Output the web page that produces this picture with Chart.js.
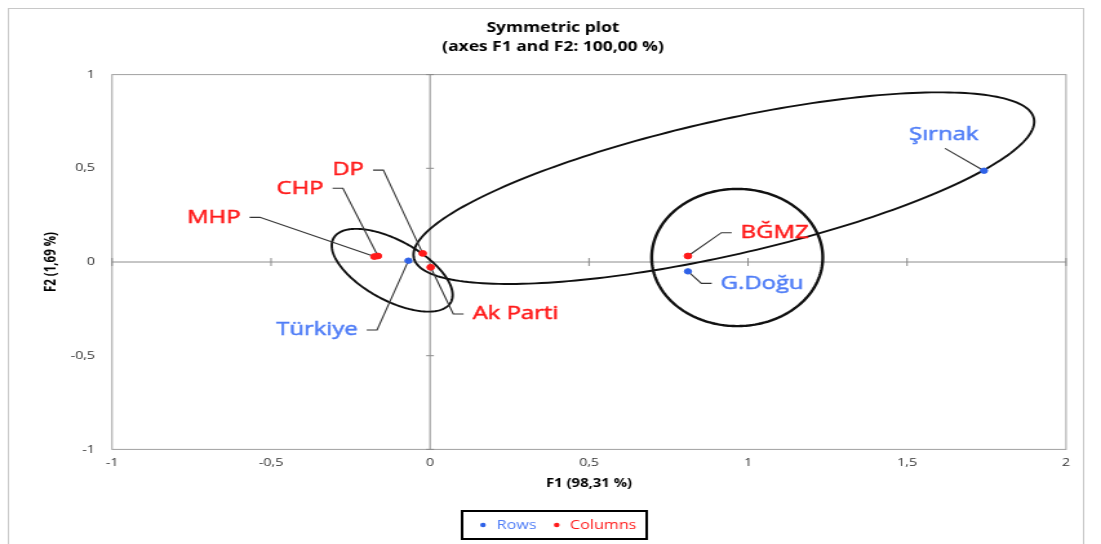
<!DOCTYPE html>
<html>
<head>
<meta charset="utf-8">
<script src="https://cdn.jsdelivr.net/npm/chart.js@4.4.1/dist/chart.umd.min.js"></script>
<style>
  html, body { margin: 0; padding: 0; background: #fff; overflow: hidden; }
  #ca { display: block; }
</style>
</head>
<body>
<!-- the reference is horizontally stretched, so the canvas is drawn narrow and widened by css -->
<canvas id="ca" width="853" height="544" style="width:1101px;height:544px"></canvas>
<script>
// ---- values ----
const rowNames = ["Türkiye", "G.Doğu", "Şırnak"];
const rowF1 = [-0.068, 0.811, 1.742];
const rowF2 = [0.007, -0.050, 0.487];

const colNames = ["Ak Parti", "CHP", "MHP", "DP", "BĞMZ"];
const colF1 = [0.002, -0.164, -0.175, -0.023, 0.811];
const colF2 = [-0.028, 0.032, 0.029, 0.046, 0.032];

// ellipses: centre + two conjugate semi-diameters, in F1/F2 units
const ellCx = [0.924, -0.119, 0.966];
const ellCy = [0.394, -0.044, 0.024];
const ellPx = [0.976, 0.190, 0.269];
const ellPy = [0.355, -0.132, 0];
const ellQx = [0, 0, 0];
const ellQy = [0.368, 0.177, 0.366];

const xTicks = [-1, -0.5, 0, 0.5, 1, 1.5, 2];
const yTicks = [-1, -0.5, 0, 0.5, 1];

// ---- look ----
const FONT = "'Open Sans', sans-serif";
const BLUE_PT = "#2f62e8";
const BLUE_TXT = "#4f7df7";
const RED = "#ff1a1a";

// leader elbow offset from the point (px) and which side the text sits
const labelLayout = {
  "Şırnak":   { ex: -30.2, ey: -22.4, side: "up" },
  "G.Doğu":   { ex: 10.4,  ey: 12,    side: "r" },
  "Türkiye":  { ex: -24.3, ey: 69.3,  side: "l" },
  "BĞMZ":     { ex: 25.9,  ey: -23.3, side: "r" },
  "MHP":      { ex: -88.7, ey: -39.2, side: "l" },
  "CHP":      { ex: -27.1, ey: -67.7, side: "l" },
  "DP":       { ex: -30.5, ey: -83.3, side: "l" },
  "Ak Parti": { ex: 17.5,  ey: 46.7,  side: "r" }
};

const fmt = v => String(v).replace(".", ",");

function allLabels(chart) {
  const out = [];
  chart.data.datasets.forEach((ds, di) => {
    const meta = chart.getDatasetMeta(di);
    ds.data.forEach((d, i) => {
      out.push({ name: d.name, px: meta.data[i].x, py: meta.data[i].y, color: di === 0 ? BLUE_TXT : RED });
    });
  });
  return out;
}

const decor = {
  id: "decor",
  beforeDraw(chart) {
    const ctx = chart.ctx;
    ctx.save();
    ctx.fillStyle = "#fff";
    ctx.fillRect(0, 0, chart.width, chart.height);
    ctx.strokeStyle = "#c8c8c8";
    ctx.lineWidth = 1;
    ctx.strokeRect(6.5, 8.5, 833, 600);
    ctx.restore();
  },
  beforeDatasetsDraw(chart) {
    const { ctx, chartArea: a, scales: { x, y } } = chart;
    ctx.save();
    // plot frame
    ctx.strokeStyle = "#a0a0a0";
    ctx.lineWidth = 1;
    ctx.strokeRect(a.left, a.top, a.right - a.left, a.bottom - a.top);
    // axes through the origin with small ticks
    const x0 = x.getPixelForValue(0), y0 = y.getPixelForValue(0);
    ctx.strokeStyle = "#8c8c8c";
    ctx.beginPath();
    ctx.moveTo(x0, a.top); ctx.lineTo(x0, a.bottom);
    ctx.moveTo(a.left, y0); ctx.lineTo(a.right, y0);
    xTicks.forEach(v => {
      const px = x.getPixelForValue(v);
      ctx.moveTo(px, y0 - 4); ctx.lineTo(px, y0 + 4);
    });
    yTicks.forEach(v => {
      const py = y.getPixelForValue(v);
      ctx.moveTo(x0 - 3, py); ctx.lineTo(x0 + 3, py);
    });
    ctx.stroke();

    // ellipses
    ctx.strokeStyle = "#111";
    for (let i = 0; i < ellCx.length; i++) {
      ctx.lineWidth = i === 2 ? 2.4 : 1.9;
      ctx.beginPath();
      for (let k = 0; k <= 240; k++) {
        const t = k / 240 * Math.PI * 2;
        const vx = ellCx[i] + ellPx[i] * Math.cos(t) + ellQx[i] * Math.sin(t);
        const vy = ellCy[i] + ellPy[i] * Math.cos(t) + ellQy[i] * Math.sin(t);
        const px = x.getPixelForValue(vx), py = y.getPixelForValue(vy);
        if (k === 0) ctx.moveTo(px, py); else ctx.lineTo(px, py);
      }
      ctx.closePath();
      ctx.stroke();
    }

    // leader lines
    ctx.strokeStyle = "#333";
    ctx.lineWidth = 1.1;
    allLabels(chart).forEach(l => {
      const L = labelLayout[l.name];
      const ex = l.px + L.ex, ey = l.py + L.ey;
      ctx.beginPath();
      ctx.moveTo(l.px, l.py);
      ctx.lineTo(ex, ey);
      if (L.side === "l") ctx.lineTo(ex - 8, ey);
      if (L.side === "r") ctx.lineTo(ex + 8, ey);
      ctx.stroke();
    });
    ctx.restore();
  },
  afterDraw(chart) {
    const ctx = chart.ctx;
    ctx.save();
    // point labels (a thin stroke thickens them a bit, like the reference)
    ctx.font = "18.5px " + FONT;
    ctx.textBaseline = "middle";
    ctx.lineWidth = 0.5;
    allLabels(chart).forEach(l => {
      const L = labelLayout[l.name];
      const ex = l.px + L.ex, ey = l.py + L.ey;
      let tx = ex - 1, ty = ey - 13.6;
      ctx.textAlign = "center";
      if (L.side === "l") { ctx.textAlign = "right"; tx = ex - 15; ty = ey; }
      if (L.side === "r") { ctx.textAlign = "left"; tx = ex + 15; ty = ey; }
      ctx.fillStyle = l.color;
      ctx.strokeStyle = l.color;
      ctx.fillText(l.name, tx, ty);
      ctx.strokeText(l.name, tx, ty);
    });

    // title
    ctx.fillStyle = "#000";
    ctx.textAlign = "center";
    ctx.font = "bold 13.5px " + FONT;
    ctx.fillText("Symmetric plot", 428.4, 28);
    ctx.fillText("(axes F1 and F2: 100,00 %)", 428.4, 46.7);

    // legend box
    ctx.strokeStyle = "#000";
    ctx.lineWidth = 2;
    ctx.strokeRect(358, 511, 143, 28);
    ctx.font = "12.5px " + FONT;
    ctx.textAlign = "left";
    [["Rows", BLUE_PT, BLUE_TXT, 374.2, 384.8], ["Columns", RED, RED, 431.3, 441.6]].forEach(([t, pc, tc, dx, tx]) => {
      ctx.fillStyle = pc;
      ctx.beginPath();
      ctx.arc(dx, 525, 2.2, 0, Math.PI * 2);
      ctx.fill();
      ctx.fillStyle = tc;
      ctx.fillText(t, tx, 525);
    });
    ctx.restore();
  }
};

new Chart(document.getElementById("ca"), {
  type: "scatter",
  data: {
    datasets: [
      {
        label: "Rows",
        data: rowF1.map((v, i) => ({ x: v, y: rowF2[i], name: rowNames[i] })),
        backgroundColor: BLUE_PT,
        borderColor: BLUE_PT,
        pointRadius: 2.7,
        pointHoverRadius: 2.7
      },
      {
        label: "Columns",
        data: colF1.map((v, i) => ({ x: v, y: colF2[i], name: colNames[i] })),
        backgroundColor: RED,
        borderColor: RED,
        pointRadius: 2.9,
        pointHoverRadius: 2.9
      }
    ]
  },
  options: {
    responsive: false,
    animation: false,
    devicePixelRatio: 1,
    events: [],
    layout: { padding: { top: 74.6, right: 27.1, bottom: 0, left: 0 } },
    plugins: {
      legend: { display: false },
      title: { display: false },
      tooltip: { enabled: false }
    },
    scales: {
      x: {
        type: "linear",
        min: -1,
        max: 2,
        afterBuildTicks: s => { s.ticks = xTicks.map(v => ({ value: v })); },
        afterFit: s => { s.height = 94.6; },
        grid: { display: false, drawTicks: false },
        border: { display: false },
        ticks: { padding: 7, color: "#333", font: { family: FONT, size: 11 }, callback: fmt },
        title: {
          display: true,
          text: "F1 (98,31 %)",
          color: "#000",
          font: { family: FONT, size: 11.5, weight: "bold" },
          padding: { top: 0, bottom: 53.8 }
        }
      },
      y: {
        type: "linear",
        min: -1,
        max: 1,
        afterBuildTicks: s => { s.ticks = yTicks.map(v => ({ value: v })); },
        afterFit: s => { s.width = 86.8; },
        grid: { display: false, drawTicks: false },
        border: { display: false },
        ticks: { padding: 13.2, color: "#333", font: { family: FONT, size: 11 }, callback: fmt },
        title: {
          display: true,
          text: "F2 (1,69 %)",
          color: "#000",
          font: { family: FONT, size: 11.5, weight: "bold" },
          padding: { top: 33.2, bottom: 0 }
        }
      }
    }
  },
  plugins: [decor]
});
</script>
</body>
</html>
